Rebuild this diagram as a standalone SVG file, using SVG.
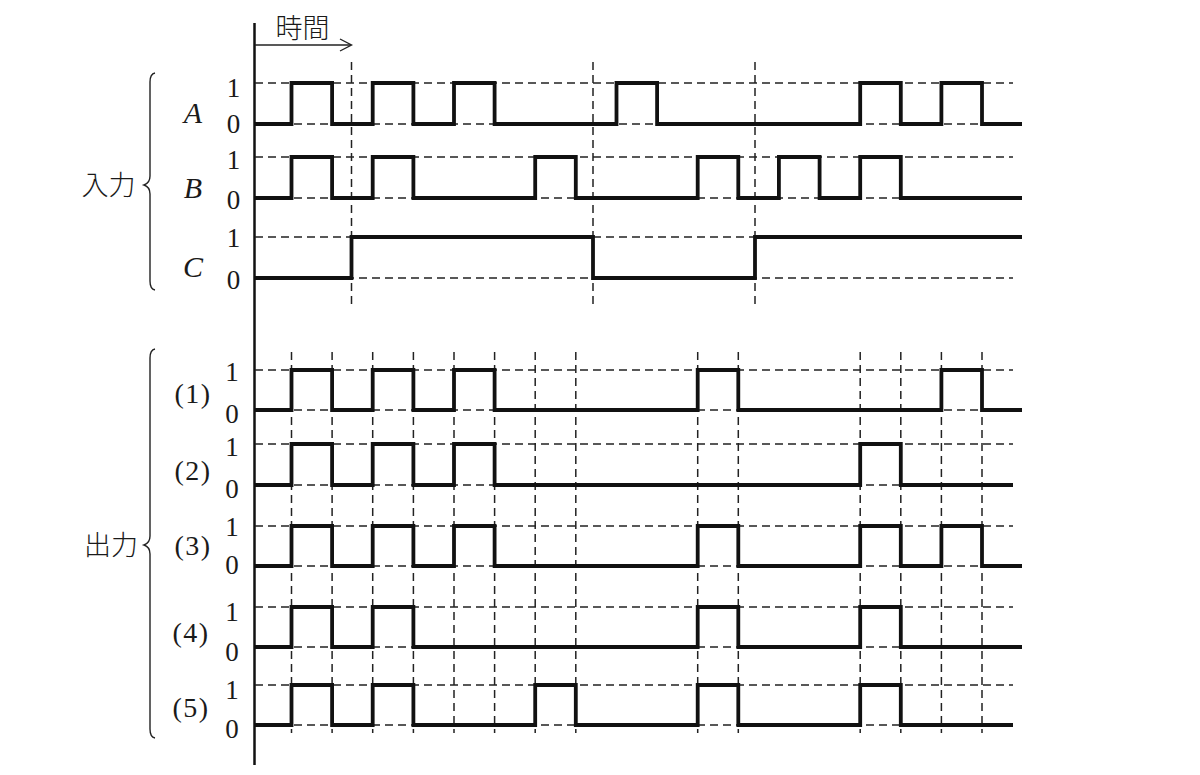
<svg xmlns="http://www.w3.org/2000/svg" width="1200" height="775" viewBox="0 0 1200 775">
<style>
.bg{fill:#ffffff}
.axis{stroke:#111;stroke-width:2.5;fill:none}
.grid{stroke:#222;stroke-width:1.5;stroke-dasharray:8 5;fill:none}
.wave{stroke:#111;stroke-width:3.8;fill:none;stroke-linejoin:miter;stroke-linecap:butt}
.thin{stroke:#222;stroke-width:1.4;fill:none}
.num{font-family:"Liberation Serif","DejaVu Serif",serif;font-size:27px;fill:#1a1a1a;text-anchor:middle}
.var{font-family:"Liberation Serif","DejaVu Serif",serif;font-style:italic;font-size:30px;fill:#1a1a1a;text-anchor:middle}
.par{font-family:"Liberation Serif","DejaVu Serif",serif;font-size:28px;fill:#1a1a1a;text-anchor:middle;letter-spacing:1.5px}
.jp{font-family:"Noto Sans CJK JP","Noto Sans CJK SC",sans-serif;font-weight:300;font-size:27px;fill:#1a1a1a;text-anchor:middle}
</style>
<rect class="bg" x="0" y="0" width="1200" height="775"/>

<g id="axis">
<line class="axis" x1="254.5" y1="23" x2="254.5" y2="765"/>
</g>

<g id="time-arrow">
<text class="jp" x="302.5" y="38">時間</text>
<line class="thin" x1="255" y1="45" x2="351" y2="45"/>
<polyline class="thin" points="340,39 351.5,45 340,51"/>
</g>

<g id="grid-lines">
<path class="grid" d="M255 83H1013M255 124H1013M255 157H1013M255 198H1013M255 237H1013M255 278H1013"/>
<path class="grid" d="M351.5 62V304M593 62V304M755 62V304"/>
<path class="grid" d="M255 370H1013M255 410H1013M255 444H1013M255 485H1013M255 526H1013M255 566H1013M255 607H1013M255 647H1013M255 685H1013M255 725H1013"/>
<path class="grid" d="M291.5 352V733M332.1 352V733M372.7 352V733M413.4 352V733M454 352V733M494.6 352V733M535.2 352V733M575.8 352V733M697.7 352V733M738.3 352V733M860.2 352V733M900.8 352V733M941.4 352V733M982 352V733"/>
</g>

<g id="input-brace">
<path class="thin" d="M155 73Q150 74 150 82V176Q150 183 144 185Q150 187 150 194V281Q150 289 155 290"/>
<text class="jp" x="108.5" y="195">入力</text>
</g>

<g id="output-brace">
<path class="thin" d="M155 349Q150 350 150 358V536Q150 543 144 545Q150 547 150 554V729Q150 737 155 738"/>
<text class="jp" x="111" y="555">出力</text>
</g>

<g id="signal-A">
<text class="var" x="193" y="123">A</text>
<text class="num" x="233.5" y="97">1</text>
<text class="num" x="233.5" y="133">0</text>
<path class="wave" d="M255 124H291.5V83H332.1V124H372.7V83H413.4V124H454V83H494.6V124H616.5V83H657.1V124H860.2V83H900.8V124H941.4V83H982V124H1022"/>
</g>

<g id="signal-B">
<text class="var" x="193" y="198">B</text>
<text class="num" x="233.5" y="168.5">1</text>
<text class="num" x="233.5" y="208.5">0</text>
<path class="wave" d="M255 198H291.5V157H332.1V198H372.7V157H413.4V198H535.2V157H575.8V198H697.7V157H738.3V198H778.9V157H819.6V198H860.2V157H900.8V198H1022"/>
</g>

<g id="signal-C">
<text class="var" x="193" y="277">C</text>
<text class="num" x="233.5" y="247">1</text>
<text class="num" x="233.5" y="288.5">0</text>
<path class="wave" d="M255 278H351.5V237H593V278H755V237H1022"/>
</g>

<g id="output-1">
<text class="par" x="193" y="403">(1)</text>
<text class="num" x="232" y="381">1</text>
<text class="num" x="232" y="422.5">0</text>
<path class="wave" d="M255 410H291.5V370H332.1V410H372.7V370H413.4V410H454V370H494.6V410H697.7V370H738.3V410H941.4V370H982V410H1022"/>
</g>

<g id="output-2">
<text class="par" x="193" y="480">(2)</text>
<text class="num" x="232" y="456">1</text>
<text class="num" x="232" y="497.5">0</text>
<path class="wave" d="M255 485H291.5V444H332.1V485H372.7V444H413.4V485H454V444H494.6V485H860.2V444H900.8V485H1013"/>
</g>

<g id="output-3">
<text class="par" x="193" y="555">(3)</text>
<text class="num" x="232" y="535.5">1</text>
<text class="num" x="232" y="573.5">0</text>
<path class="wave" d="M255 566H291.5V526H332.1V566H372.7V526H413.4V566H454V526H494.6V566H697.7V526H738.3V566H860.2V526H900.8V566H941.4V526H982V566H1022"/>
</g>

<g id="output-4">
<text class="par" x="191" y="642">(4)</text>
<text class="num" x="232" y="620.5">1</text>
<text class="num" x="232" y="660.5">0</text>
<path class="wave" d="M255 647H291.5V607H332.1V647H372.7V607H413.4V647H697.7V607H738.3V647H860.2V607H900.8V647H1022"/>
</g>

<g id="output-5">
<text class="par" x="191" y="717">(5)</text>
<text class="num" x="232" y="698.5">1</text>
<text class="num" x="232" y="737.5">0</text>
<path class="wave" d="M255 725H291.5V685H332.1V725H372.7V685H413.4V725H535.2V685H575.8V725H697.7V685H738.3V725H860.2V685H900.8V725H1013"/>
</g>
</svg>
